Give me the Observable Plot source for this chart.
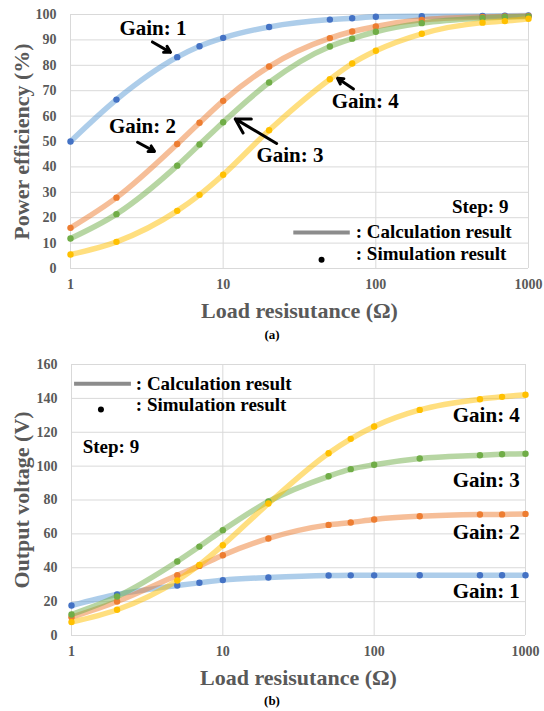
<!DOCTYPE html>
<html>
<head>
<meta charset="utf-8">
<script src="https://cdn.jsdelivr.net/npm/d3@7"></script>
<script src="https://cdn.jsdelivr.net/npm/@observablehq/plot@0.6"></script>
<style>
  body { margin: 0; background: white; width: 544px; }
  .cap { width: 544px; text-align: center; font-family: "Liberation Serif", serif; font-weight: bold; font-size: 13px; color: #000; }
</style>
</head>
<body>
<div id="a"></div>
<div class="cap" style="height:20px;line-height:20px;">(a)</div>
<div id="b"></div>
<div class="cap" style="height:21px;line-height:21px;">(b)</div>
<script>
// ---- data ----
const loadR = [1, 2, 5, 7, 10, 20, 50, 70, 100, 200, 500, 700, 1000];
const gains = ["Gain: 1", "Gain: 2", "Gain: 3", "Gain: 4"];
const lineColors = ["#5b9bd5", "#ed7d31", "#70ad47", "#ffc000"];
const dotColors = ["#4472c4", "#ed7d31", "#70ad47", "#ffc000"];

const effGain1 = [50.0, 66.5, 83.2, 87.5, 90.8, 95.1, 98.0, 98.5, 99.1, 99.3, 99.4, 99.5, 99.6];
const effGain2 = [16.0, 27.9, 49.0, 57.4, 66.0, 79.5, 90.7, 93.3, 95.3, 97.9, 99.0, 99.2, 99.4];
const effGain3 = [11.8, 21.4, 40.5, 48.8, 57.6, 73.2, 87.4, 90.5, 93.2, 96.6, 98.6, 99.0, 99.2];
const effGain4 = [5.5, 10.5, 22.7, 29.0, 36.9, 54.4, 74.5, 80.7, 85.7, 92.4, 96.8, 97.4, 98.3];

const voltGain1 = [17.7, 24.2, 29.5, 31.1, 32.7, 34.2, 35.4, 35.5, 35.5, 35.6, 35.6, 35.6, 35.6];
const voltGain2 = [10.8, 20.1, 35.6, 41.1, 47.4, 57.3, 65.3, 66.7, 68.5, 70.4, 71.4, 71.5, 71.8];
const voltGain3 = [12.4, 23.0, 43.7, 52.5, 62.2, 79.1, 94.0, 98.2, 100.8, 104.5, 106.4, 107.0, 107.3];
const voltGain4 = [7.9, 15.2, 32.5, 41.7, 53.3, 77.9, 107.6, 116.1, 123.4, 133.2, 139.5, 140.9, 142.1];

const xTicks = [1, 10, 100, 1000];
const effTicks = [0, 10, 20, 30, 40, 50, 60, 70, 80, 90, 100];
const voltTicks = [0, 20, 40, 60, 80, 100, 120, 140, 160];

const xTitle = "Load resisutance (Ω)";
const effTitle = "Power efficiency (%)";
const voltTitle = "Output voltage (V)";
const calcLabel = ": Calculation result";
const simLabel = ": Simulation result";
const stepLabel = "Step: 9";

// annotations (data coordinates)
const effGainLabels = [
  {x: 3.47, y: 94.5, t: "Gain: 1"},
  {x: 2.96, y: 55.9, t: "Gain: 2"},
  {x: 27.4, y: 44.5, t: "Gain: 3"},
  {x: 85.2, y: 65.7, t: "Gain: 4"}
];
const effArrows = [
  {x1: 3.44, y1: 89.2, x2: 4.52, y2: 85.1},
  {x1: 2.75, y1: 49.7, x2: 3.55, y2: 46.1},
  {x1: 22.4, y1: 49.2, x2: 12.0, y2: 58.9},
  {x1: 71.4, y1: 70.7, x2: 56.1, y2: 74.9}
];
const voltGainLabels = [
  {x: 918, y: 130, t: "Gain: 4"},
  {x: 918, y: 91.7, t: "Gain: 3"},
  {x: 918, y: 60.8, t: "Gain: 2"},
  {x: 918, y: 26.4, t: "Gain: 1"}
];

function table(series) {
  const rows = [];
  series.forEach((vals, gi) => vals.forEach((v, i) => rows.push({r: loadR[i], v, g: gains[gi]})));
  return rows;
}

const effRows = table([effGain1, effGain2, effGain3, effGain4]);
const voltRows = table([voltGain1, voltGain2, voltGain3, voltGain4]);

const serif = '"Liberation Serif", "Times New Roman", serif';

function panel({rows, yDomain, yTicks, yTitle, height, mTop, mBottom, mLeft, mRight, extra}) {
  return Plot.plot({
    width: 544,
    height,
    marginTop: mTop,
    marginBottom: mBottom,
    marginLeft: mLeft,
    marginRight: mRight,
    style: {fontFamily: serif, fontSize: "14px", fontWeight: "bold", color: "#595959", background: "white", overflow: "visible"},
    x: {type: "log", domain: [1, 1000]},
    y: {domain: yDomain},
    marks: [
      Plot.gridX(xTicks, {stroke: "#d9d9d9", strokeOpacity: 1}),
      Plot.gridY(yTicks, {stroke: "#d9d9d9", strokeOpacity: 1}),
      Plot.axisX({ticks: xTicks, tickSize: 0, tickPadding: 11, tickFormat: d => String(d), label: null}),
      Plot.axisY({ticks: yTicks, tickSize: 0, tickPadding: 14, tickFormat: d => String(d), label: null}),
      ...gains.map((g, gi) => Plot.line(rows.filter(d => d.g === g), {x: "r", y: "v", stroke: lineColors[gi], strokeWidth: 5.5, strokeOpacity: 0.5, curve: "monotone-x"})),
      ...gains.map((g, gi) => Plot.dot(rows.filter(d => d.g === g), {x: "r", y: "v", fill: dotColors[gi], r: 3.2, stroke: "none"})),
      Plot.text([xTitle], {frameAnchor: "bottom", dy: 42, textAnchor: "middle", fontSize: 22, fontWeight: "bold", fill: "#595959", lineAnchor: "middle"}),
      Plot.text([yTitle], {frameAnchor: "left", dx: -(mLeft - 21), rotate: -90, textAnchor: "middle", fontSize: 22, fontWeight: "bold", fill: "#595959", lineAnchor: "middle"}),
      ...extra
    ]
  });
}

const effExtra = [
  Plot.text(effGainLabels, {x: "x", y: "y", text: "t", fontSize: 21, fontWeight: "bold", fill: "black"}),
  Plot.arrow(effArrows, {x1: "x1", y1: "y1", x2: "x2", y2: "y2", stroke: "black", strokeWidth: 3, headLength: 9}),
  Plot.text([stepLabel], {x: [739], y: [24.4], textAnchor: "end", fontSize: 19, fontWeight: "bold", fill: "black"}),
  Plot.link([0], {x1: [28.8], x2: [67.5], y1: [14.2], y2: [14.2], stroke: "#8c8c8c", strokeWidth: 4}),
  Plot.text([calcLabel], {x: [73.9], y: [14.5], textAnchor: "start", fontSize: 19, fontWeight: "bold", fill: "black"}),
  Plot.dot([0], {x: [44.1], y: [3.4], r: 3, fill: "black"}),
  Plot.text([simLabel], {x: [73.9], y: [5.8], textAnchor: "start", fontSize: 19, fontWeight: "bold", fill: "black"})
];

const voltExtra = [
  Plot.text(voltGainLabels, {x: "x", y: "y", text: "t", textAnchor: "end", fontSize: 21, fontWeight: "bold", fill: "black"}),
  Plot.link([0], {x1: [1.04], x2: [2.47], y1: [148.6], y2: [148.6], stroke: "#8c8c8c", strokeWidth: 4}),
  Plot.text([calcLabel], {x: [2.66], y: [148.8], textAnchor: "start", fontSize: 19, fontWeight: "bold", fill: "black"}),
  Plot.dot([0], {x: [1.565], y: [133.4], r: 3, fill: "black"}),
  Plot.text([simLabel], {x: [2.66], y: [135.9], textAnchor: "start", fontSize: 19, fontWeight: "bold", fill: "black"}),
  Plot.text([stepLabel], {x: [1.185], y: [111.4], textAnchor: "start", fontSize: 19, fontWeight: "bold", fill: "black"})
];

document.getElementById("a").append(panel({
  rows: effRows, yDomain: [0, 100], yTicks: effTicks, yTitle: effTitle,
  height: 325, mTop: 14, mBottom: 57, mLeft: 70, mRight: 16, extra: effExtra
}));
document.getElementById("b").append(panel({
  rows: voltRows, yDomain: [0, 160], yTicks: voltTicks, yTitle: voltTitle,
  height: 345, mTop: 19, mBottom: 55, mLeft: 71, mRight: 19, extra: voltExtra
}));
</script>
</body>
</html>
